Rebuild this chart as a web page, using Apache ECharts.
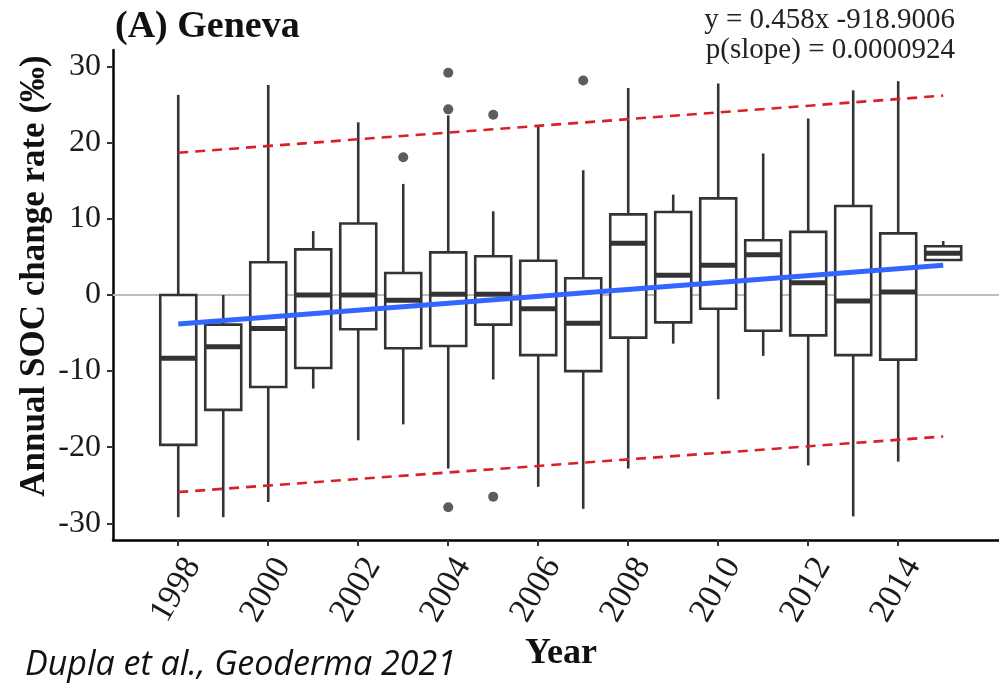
<!DOCTYPE html>
<html>
<head>
<meta charset="utf-8">
<script src="https://cdn.jsdelivr.net/npm/echarts@6/dist/echarts.min.js"></script>
<style>html,body{margin:0;padding:0;background:#fff;}#c{width:999px;height:684px;}</style>
</head>
<body>
<div id="c"></div>
<script>
// ---- data ----
const years    = [1998,1999,2000,2001,2002,2003,2004,2005,2006,2007,2008,2009,2010,2011,2012,2013,2014,2015];
const whiskLo  = [-29.2,-29.2,-27.2,-12.3,-19.1,-17.0,-22.8,-11.1,-25.2,-28.1,-22.8,-6.4,-13.7,-8.0,-22.4,-29.1,-21.9,4.6];
const q1       = [-19.7,-15.1,-12.1,-9.6,-4.5,-7.0,-6.7,-3.9,-7.9,-10.0,-5.6,-3.6,-1.8,-4.7,-5.3,-7.9,-8.5,4.6];
const medians  = [-8.3,-6.8,-4.4,0.0,0.0,-0.7,0.1,0.1,-1.8,-3.7,6.8,2.6,3.9,5.3,1.6,-0.8,0.4,5.5];
const q3       = [0.0,-3.9,4.3,6.0,9.4,2.9,5.6,5.1,4.5,2.2,10.6,10.9,12.7,7.2,8.3,11.7,8.1,6.4];
const whiskHi  = [26.3,0.0,27.6,8.4,22.7,14.6,23.6,11.0,22.1,16.4,27.2,13.2,27.8,18.6,23.2,26.9,28.1,7.1];
const outlierYears  = [2003,2004,2004,2004,2005,2005,2007];
const outlierValues = [18.1,29.2,24.4,-27.9,23.7,-26.5,28.2];
const fitYears   = [1998, 2015];
const fitValues  = [-3.8, 3.9];
const upperBand  = [18.7, 26.2];
const lowerBand  = [-25.9, -18.6];
const yTickValues = [-30,-20,-10,0,10,20,30];
const xTickValues = [1998,2000,2002,2004,2006,2008,2010,2012,2014];

// ---- build ----
const boxData = years.map((y,i)=>[y, whiskLo[i], q1[i], medians[i], q3[i], whiskHi[i]]);
const outlierData = outlierYears.map((y,i)=>[y, outlierValues[i]]);
const pairs = (xs, vs)=>xs.map((x,i)=>[x, vs[i]]);

const serif = 'Liberation Serif';
const BOX_WIDTH = 0.8; // in years
const STROKE = '#333333';

const chart = echarts.init(document.getElementById('c'), null, {renderer:'canvas'});
chart.setOption({
  animation: false,
  backgroundColor: '#ffffff',
  grid: {left: 113, right: 0, top: 50, bottom: 144, containLabel: false},
  xAxis: {
    type: 'value', min: 1996.55, max: 2016.24,
    axisLine: {show: true, onZero: false, lineStyle: {color: '#000', width: 2.5}},
    axisTick: {show: true, length: 6, lineStyle: {color: '#333', width: 2}, customValues: xTickValues},
    axisLabel: {show: true, rotate: 60, margin: 12, verticalAlign: 'top', fontFamily: serif, fontSize: 34, color: '#1a1a1a',
      customValues: xTickValues, formatter: v => String(v)},
    splitLine: {show: false}
  },
  yAxis: {
    type: 'value', min: -32.2, max: 32.2,
    axisLine: {show: true, onZero: false, lineStyle: {color: '#000', width: 2.5}},
    axisTick: {show: true, length: 6, lineStyle: {color: '#333', width: 2}, customValues: yTickValues},
    axisLabel: {show: true, margin: 12, fontFamily: serif, fontSize: 32, color: '#1a1a1a', customValues: yTickValues},
    splitLine: {show: false}
  },
  series: [
    {
      type: 'line', data: [], z: 1, silent: true,
      markLine: {silent: true, symbol: 'none', z: 1, label: {show: false},
        lineStyle: {color: '#bdbdbd', width: 2, type: 'solid'},
        data: [{yAxis: 0}]}
    },
    {
      type: 'custom', z: 3, silent: true,
      data: boxData,
      encode: {x: 0, y: [1,2,3,4,5]},
      renderItem: function(params, api) {
        const x = api.value(0);
        const pLo = api.coord([x, api.value(1)]);
        const pQ1 = api.coord([x, api.value(2)]);
        const pMd = api.coord([x, api.value(3)]);
        const pQ3 = api.coord([x, api.value(4)]);
        const pHi = api.coord([x, api.value(5)]);
        const hw = api.size([BOX_WIDTH, 0])[0] / 2;
        const ls = {stroke: STROKE, lineWidth: 2.6};
        return {type: 'group', children: [
          {type: 'line', shape: {x1: pHi[0], y1: pHi[1], x2: pQ3[0], y2: pQ3[1]}, style: ls},
          {type: 'line', shape: {x1: pQ1[0], y1: pQ1[1], x2: pLo[0], y2: pLo[1]}, style: ls},
          {type: 'rect', shape: {x: pQ3[0]-hw, y: pQ3[1], width: 2*hw, height: pQ1[1]-pQ3[1]},
            style: {fill: '#ffffff', stroke: STROKE, lineWidth: 2.6}},
          {type: 'line', shape: {x1: pMd[0]-hw, y1: pMd[1], x2: pMd[0]+hw, y2: pMd[1]},
            style: {stroke: STROKE, lineWidth: 5}}
        ]};
      }
    },
    {
      type: 'scatter', z: 4, data: outlierData, symbol: 'circle', symbolSize: 10,
      itemStyle: {color: '#333333'}
    },
    {
      type: 'line', z: 5, data: pairs(fitYears, fitValues), symbol: 'none',
      lineStyle: {color: '#3366ff', width: 5}
    },
    {
      type: 'line', z: 6, data: pairs(fitYears, upperBand), symbol: 'none',
      lineStyle: {color: '#d92027', width: 2.6, type: [10, 7]}
    },
    {
      type: 'line', z: 6, data: pairs(fitYears, lowerBand), symbol: 'none',
      lineStyle: {color: '#d92027', width: 2.6, type: [10, 7]}
    }
  ],
  graphic: [
    {type: 'text', left: 115, top: 8, style: {text: '(A) Geneva', font: 'bold 38px "Liberation Serif"', fill: '#111'}},
    {type: 'text', x: 955, y: 20, style: {text: 'y = 0.458x -918.9006', font: '29px "Liberation Serif"', fill: '#222', align: 'right', verticalAlign: 'middle'}},
    {type: 'text', x: 955, y: 50, style: {text: 'p(slope) = 0.0000924', font: '29px "Liberation Serif"', fill: '#222', align: 'right', verticalAlign: 'middle'}},
    {type: 'text', x: 35, y: 276, rotation: Math.PI/2, style: {text: 'Annual SOC change rate (‰)', font: 'bold 35px "Liberation Serif"', fill: '#111', align: 'center', verticalAlign: 'middle'}},
    {type: 'text', x: 561, y: 654, style: {text: 'Year', font: 'bold 36px "Liberation Serif"', fill: '#111', align: 'center', verticalAlign: 'middle'}},
    {type: 'text', x: 25, y: 665, style: {text: 'Dupla et al., Geoderma 2021', font: 'italic 34px "Open Sans"', fill: '#111', align: 'left', verticalAlign: 'middle'}}
  ]
});
</script>
</body>
</html>
